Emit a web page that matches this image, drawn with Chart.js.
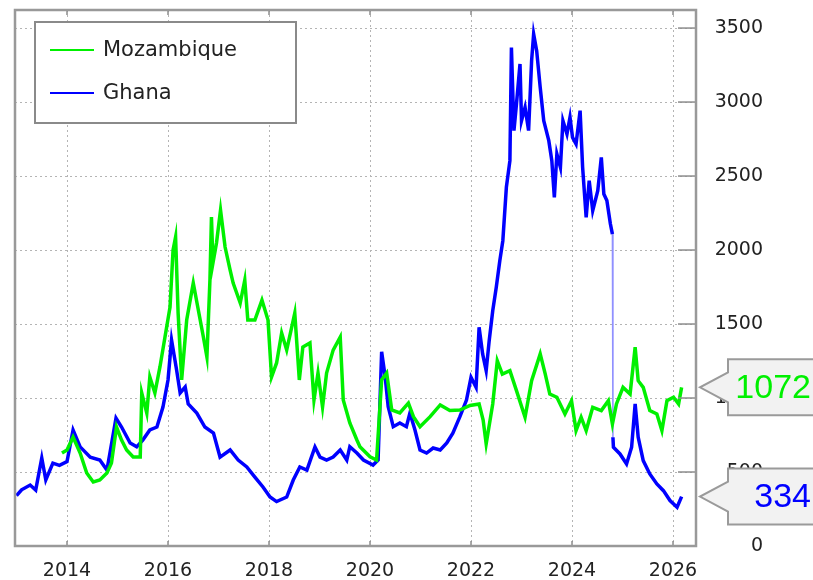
<!DOCTYPE html>
<html>
<head>
<meta charset="utf-8">
<script src="https://cdn.jsdelivr.net/npm/chart.js@4.4.1/dist/chart.umd.min.js"></script>
<style>
  html, body { margin: 0; padding: 0; background: #fff; }
  #wrap { width: 813px; height: 580px; }
</style>
</head>
<body>
<div id="wrap"><canvas id="chart" width="813" height="580"></canvas></div>
<script>
// tick labels
const yearTicks = [2014, 2016, 2018, 2020, 2022, 2024, 2026];
const valueTicks = [0, 500, 1000, 1500, 2000, 2500, 3000, 3500];

// Ghana (blue)
const ghanaDates = [
  2013.0, 2013.1, 2013.27, 2013.38, 2013.5, 2013.58, 2013.72, 2013.85, 2014.0, 2014.12,
  2014.26, 2014.46, 2014.65, 2014.79, 2014.85, 2014.97, 2015.08, 2015.25, 2015.38, 2015.5,
  2015.64, 2015.78, 2015.9, 2016.0, 2016.07, 2016.17, 2016.24, 2016.34, 2016.4, 2016.57,
  2016.73, 2016.9, 2017.03, 2017.23, 2017.39, 2017.56, 2017.72, 2017.88, 2018.02, 2018.15,
  2018.35, 2018.48, 2018.61, 2018.75, 2018.91, 2019.01, 2019.14, 2019.27, 2019.41, 2019.54,
  2019.6, 2019.74, 2019.87, 2020.06, 2020.16, 2020.23, 2020.3, 2020.36, 2020.46, 2020.59,
  2020.72, 2020.79, 2020.89, 2020.99, 2021.12, 2021.25, 2021.39, 2021.52, 2021.64, 2021.78,
  2021.91, 2022.0, 2022.1, 2022.16, 2022.23, 2022.3, 2022.36, 2022.43, 2022.5, 2022.57,
  2022.63, 2022.7, 2022.77, 2022.8, 2022.85, 2022.9, 2022.97, 2023.0, 2023.07, 2023.14,
  2023.2, 2023.24, 2023.3, 2023.37, 2023.44, 2023.54, 2023.6, 2023.65, 2023.7, 2023.77,
  2023.82, 2023.9, 2023.96, 2024.01, 2024.08, 2024.16, 2024.21, 2024.28, 2024.34, 2024.41,
  2024.51, 2024.58, 2024.63, 2024.69, 2024.76, 2024.8, 2024.81, 2024.82, 2024.95, 2025.08,
  2025.18, 2025.25, 2025.31, 2025.41, 2025.54, 2025.68, 2025.81, 2025.94, 2026.08, 2026.17
];
const ghanaValues = [
  340, 380, 412, 378, 595, 446, 560, 545, 570, 784,
  670, 600, 581, 513, 628, 865, 804, 696, 670, 716,
  784, 804, 939, 1122, 1392, 1189, 1034, 1074, 960, 898,
  804, 763, 601, 649, 581, 534, 466, 399, 331, 300,
  331, 446, 534, 513, 669, 601, 581, 601, 649, 581,
  671, 628, 581, 547, 581, 1313, 1144, 941, 806, 831,
  806, 899, 784, 649, 628, 662, 649, 696, 763, 874,
  986, 1140, 1072, 1478, 1298, 1185, 1388, 1590, 1748, 1928,
  2063, 2424, 2604, 3369, 2807, 2987, 3257, 2874, 2964, 2807,
  3280, 3460, 3347, 3099, 2874, 2739, 2604, 2356, 2649, 2559,
  2874, 2784, 2897, 2761, 2716, 2942, 2559, 2221, 2469, 2266,
  2401, 2626, 2379, 2334, 2176, 2108, 735, 667, 622, 554,
  667, 960, 735, 577, 487, 419, 374, 307, 262, 334
];

// Mozambique (green)
const mozDates = [
  2013.9, 2014.0, 2014.12, 2014.26, 2014.39, 2014.52, 2014.65, 2014.79, 2014.88, 2014.98,
  2015.08, 2015.18, 2015.31, 2015.45, 2015.48, 2015.58, 2015.64, 2015.74, 2015.84, 2015.94,
  2016.04, 2016.1, 2016.15, 2016.2, 2016.27, 2016.37, 2016.5, 2016.6, 2016.7, 2016.77,
  2016.83, 2016.86, 2016.89, 2016.96, 2017.04, 2017.13, 2017.23, 2017.29, 2017.43, 2017.52,
  2017.58, 2017.72, 2017.86, 2017.98, 2018.05, 2018.15, 2018.25, 2018.35, 2018.51, 2018.6,
  2018.67, 2018.81, 2018.89, 2018.97, 2019.06, 2019.14, 2019.27, 2019.41, 2019.47, 2019.6,
  2019.74, 2019.8, 2020.0, 2020.13, 2020.23, 2020.33, 2020.43, 2020.59, 2020.76, 2020.86,
  2020.99, 2021.19, 2021.39, 2021.58, 2021.78, 2021.98, 2022.16, 2022.24, 2022.3, 2022.43,
  2022.52, 2022.62, 2022.77, 2022.9, 2023.07, 2023.2, 2023.37, 2023.47, 2023.56, 2023.7,
  2023.86, 2023.99, 2024.08, 2024.18, 2024.28, 2024.41, 2024.58, 2024.72, 2024.8, 2024.88,
  2025.01, 2025.15, 2025.25, 2025.31, 2025.41, 2025.54, 2025.68, 2025.78, 2025.88, 2026.01,
  2026.11, 2026.17
];
const mozValues = [
  628, 649, 736, 628, 493, 433, 446, 493, 560, 804,
  716, 649, 601, 601, 1034, 898, 1142, 1034, 1210, 1412,
  1615, 2000, 2088, 1574, 1122, 1527, 1777, 1595, 1412, 1277,
  1797, 2223, 1912, 2047, 2270, 2020, 1865, 1777, 1642, 1797,
  1527, 1527, 1662, 1527, 1142, 1237, 1439, 1324, 1574, 1122,
  1345, 1372, 986, 1169, 939, 1169, 1324, 1412, 986, 831,
  716, 671, 603, 581, 1122, 1169, 919, 899, 966, 874,
  806, 874, 953, 915, 919, 950, 960, 851, 690, 960,
  1252, 1162, 1185, 1050, 870, 1117, 1298, 1162, 1027, 1005,
  892, 982, 780, 870, 780, 937, 915, 982, 825, 960,
  1072, 1027, 1343, 1117, 1072, 915, 892, 780, 982, 1005,
  960, 1072
];

const GREEN = '#00f000';
const BLUE = '#0000ff';

function toPoints(dates, values) {
  return dates.map((d, i) => ({ x: d, y: values[i] }));
}

// frame, inner ticks, legend and last-value callouts
const decorPlugin = {
  id: 'decor',
  afterDraw(chart) {
    const ctx = chart.ctx;
    const a = chart.chartArea;
    const ys = chart.scales.y;
    const xs = chart.scales.x;
    ctx.save();

    ctx.strokeStyle = '#8c8c8c';
    ctx.lineWidth = 1.5;
    valueTicks.forEach(v => {
      const y = ys.getPixelForValue(v);
      ctx.beginPath();
      ctx.moveTo(a.right - 18, y);
      ctx.lineTo(a.right, y);
      ctx.stroke();
    });
    yearTicks.forEach(v => {
      const x = xs.getPixelForValue(v);
      ctx.beginPath();
      ctx.moveTo(x, a.top);
      ctx.lineTo(x, a.top + 5);
      ctx.moveTo(x, a.bottom);
      ctx.lineTo(x, a.bottom - 5);
      ctx.stroke();
    });

    ctx.lineWidth = 2.5;
    ctx.strokeStyle = '#999';
    ctx.strokeRect(a.left, a.top, a.right - a.left, a.bottom - a.top);

    // legend
    ctx.fillStyle = '#fff';
    ctx.fillRect(35, 22, 261, 101);
    ctx.lineWidth = 2;
    ctx.strokeStyle = '#8a8a8a';
    ctx.strokeRect(35, 22, 261, 101);
    ctx.font = '21px "DejaVu Sans"';
    ctx.textBaseline = 'middle';
    ctx.textAlign = 'left';
    chart.data.datasets.forEach((ds, i) => {
      const ly = 50 + i * 43;
      ctx.strokeStyle = ds.borderColor;
      ctx.lineWidth = 2;
      ctx.beginPath();
      ctx.moveTo(50, ly);
      ctx.lineTo(94, ly);
      ctx.stroke();
      ctx.fillStyle = '#222';
      ctx.fillText(ds.label, 103, ly + 1);
    });

    // callouts with the last value
    chart.data.datasets.forEach(ds => {
      const last = ds.data[ds.data.length - 1];
      const y = ys.getPixelForValue(last.y);
      const tip = a.right + 4;
      const bx = 728;
      ctx.beginPath();
      ctx.moveTo(chart.width + 5, y - 28);
      ctx.lineTo(bx, y - 28);
      ctx.lineTo(bx, y - 15);
      ctx.lineTo(tip, y);
      ctx.lineTo(bx, y + 15);
      ctx.lineTo(bx, y + 28);
      ctx.lineTo(chart.width + 5, y + 28);
      ctx.closePath();
      ctx.fillStyle = '#f2f2f2';
      ctx.fill();
      ctx.strokeStyle = '#9a9a9a';
      ctx.lineWidth = 2;
      ctx.stroke();
      ctx.fillStyle = ds.borderColor;
      ctx.font = '34px "Liberation Sans"';
      ctx.textAlign = 'right';
      ctx.textBaseline = 'middle';
      ctx.fillText(String(last.y), 811, y + 1);
    });
    ctx.restore();
  }
};

const bigJump = c => Math.abs(c.p1.parsed.y - c.p0.parsed.y) > 1000;

new Chart(document.getElementById('chart'), {
  type: 'line',
  data: {
    datasets: [
      {
        label: 'Mozambique',
        data: toPoints(mozDates, mozValues),
        borderColor: GREEN,
        borderWidth: 3.5,
        pointRadius: 0,
        tension: 0
      },
      {
        label: 'Ghana',
        data: toPoints(ghanaDates, ghanaValues),
        borderColor: BLUE,
        borderWidth: 3.5,
        pointRadius: 0,
        tension: 0,
        segment: {
          borderColor: c => bigJump(c) ? 'rgba(70,70,255,0.6)' : undefined,
          borderWidth: c => bigJump(c) ? 1.5 : undefined
        }
      }
    ]
  },
  options: {
    responsive: false,
    animation: false,
    layout: { padding: { left: 15, top: 10, right: 50, bottom: 0 } },
    plugins: {
      legend: { display: false },
      tooltip: { enabled: false }
    },
    scales: {
      x: {
        type: 'linear',
        min: 2012.97,
        max: 2026.455,
        afterBuildTicks: s => { s.ticks = yearTicks.map(v => ({ value: v })); },
        afterFit: s => { s.height = 34; s.paddingLeft = 0; s.paddingRight = 0; },
        grid: { color: '#b4b4b4', lineWidth: 1, drawTicks: false },
        border: { display: false, dash: [2, 3] },
        ticks: {
          padding: 14,
          color: '#222',
          font: { family: 'DejaVu Sans', size: 19 },
          maxRotation: 0,
          callback: v => String(v)
        }
      },
      y: {
        position: 'right',
        min: 0,
        max: 3622,
        afterBuildTicks: s => { s.ticks = valueTicks.map(v => ({ value: v })); },
        afterFit: s => { s.width = 67; s.paddingTop = 0; s.paddingBottom = 0; },
        grid: { color: '#b4b4b4', lineWidth: 1, drawTicks: false },
        border: { display: false, dash: [2, 3] },
        ticks: {
          padding: 16,
          crossAlign: 'far',
          color: '#222',
          font: { family: 'DejaVu Sans', size: 19 },
          callback: v => String(v)
        }
      }
    }
  },
  plugins: [decorPlugin]
});
</script>
</body>
</html>
